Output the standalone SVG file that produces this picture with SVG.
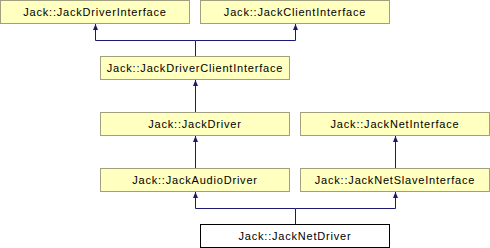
<svg xmlns="http://www.w3.org/2000/svg" width="490" height="248" viewBox="0 0 490 248">
  <style>
    .node rect { fill: #ffffc0; stroke: #a0a080; stroke-width: 1; }
    .node.current rect { fill: #ffffff; stroke: #000000; }
    .node text { font-family: "Liberation Sans", Arial, sans-serif; font-size: 11px; letter-spacing: 0.8px; fill: #000000; text-anchor: middle; }
    .edges path { fill: none; stroke: #191970; stroke-width: 1; }
  </style>
  <defs>
    <marker id="inherit" viewBox="0 0 6 5" refX="6" refY="2.5" markerWidth="6" markerHeight="5" markerUnits="userSpaceOnUse" orient="auto">
      <path d="M0,0 L6,2.5 L0,5 z" fill="#191970"/>
    </marker>
  </defs>
  <rect width="490" height="248" fill="#ffffff"/>

  <!-- inheritance connectors -->
  <g class="edges">
    <path d="M195.5,56 V40.5 H95.5 V24" marker-end="url(#inherit)"/>
    <path d="M195.5,40.5 H295.5 V24" marker-end="url(#inherit)"/>
    <path d="M195.5,112 V80" marker-end="url(#inherit)"/>
    <path d="M195.5,168 V136" marker-end="url(#inherit)"/>
    <path d="M395.5,168 V136" marker-end="url(#inherit)"/>
    <path d="M295.5,224 V208.5 H195.5 V192" marker-end="url(#inherit)"/>
    <path d="M295.5,208.5 H395.5 V192" marker-end="url(#inherit)"/>
  </g>

  <g id="JackDriverInterface" class="node">
    <rect x="0.5" y="0.5" width="189" height="23"/>
    <text x="95" y="16">Jack::JackDriverInterface</text>
  </g>
  <g id="JackClientInterface" class="node">
    <rect x="200.5" y="0.5" width="189" height="23"/>
    <text x="295" y="16">Jack::JackClientInterface</text>
  </g>
  <g id="JackDriverClientInterface" class="node">
    <rect x="100.5" y="56.5" width="189" height="23"/>
    <text x="195" y="72">Jack::JackDriverClientInterface</text>
  </g>
  <g id="JackDriver" class="node">
    <rect x="100.5" y="112.5" width="189" height="23"/>
    <text x="195" y="128">Jack::JackDriver</text>
  </g>
  <g id="JackNetInterface" class="node">
    <rect x="300.5" y="112.5" width="189" height="23"/>
    <text x="395" y="128">Jack::JackNetInterface</text>
  </g>
  <g id="JackAudioDriver" class="node">
    <rect x="100.5" y="168.5" width="189" height="23"/>
    <text x="195" y="184">Jack::JackAudioDriver</text>
  </g>
  <g id="JackNetSlaveInterface" class="node">
    <rect x="300.5" y="168.5" width="189" height="23"/>
    <text x="395" y="184">Jack::JackNetSlaveInterface</text>
  </g>
  <g id="JackNetDriver" class="node current">
    <rect x="200.5" y="224.5" width="189" height="23"/>
    <text x="295" y="240">Jack::JackNetDriver</text>
  </g>
</svg>
